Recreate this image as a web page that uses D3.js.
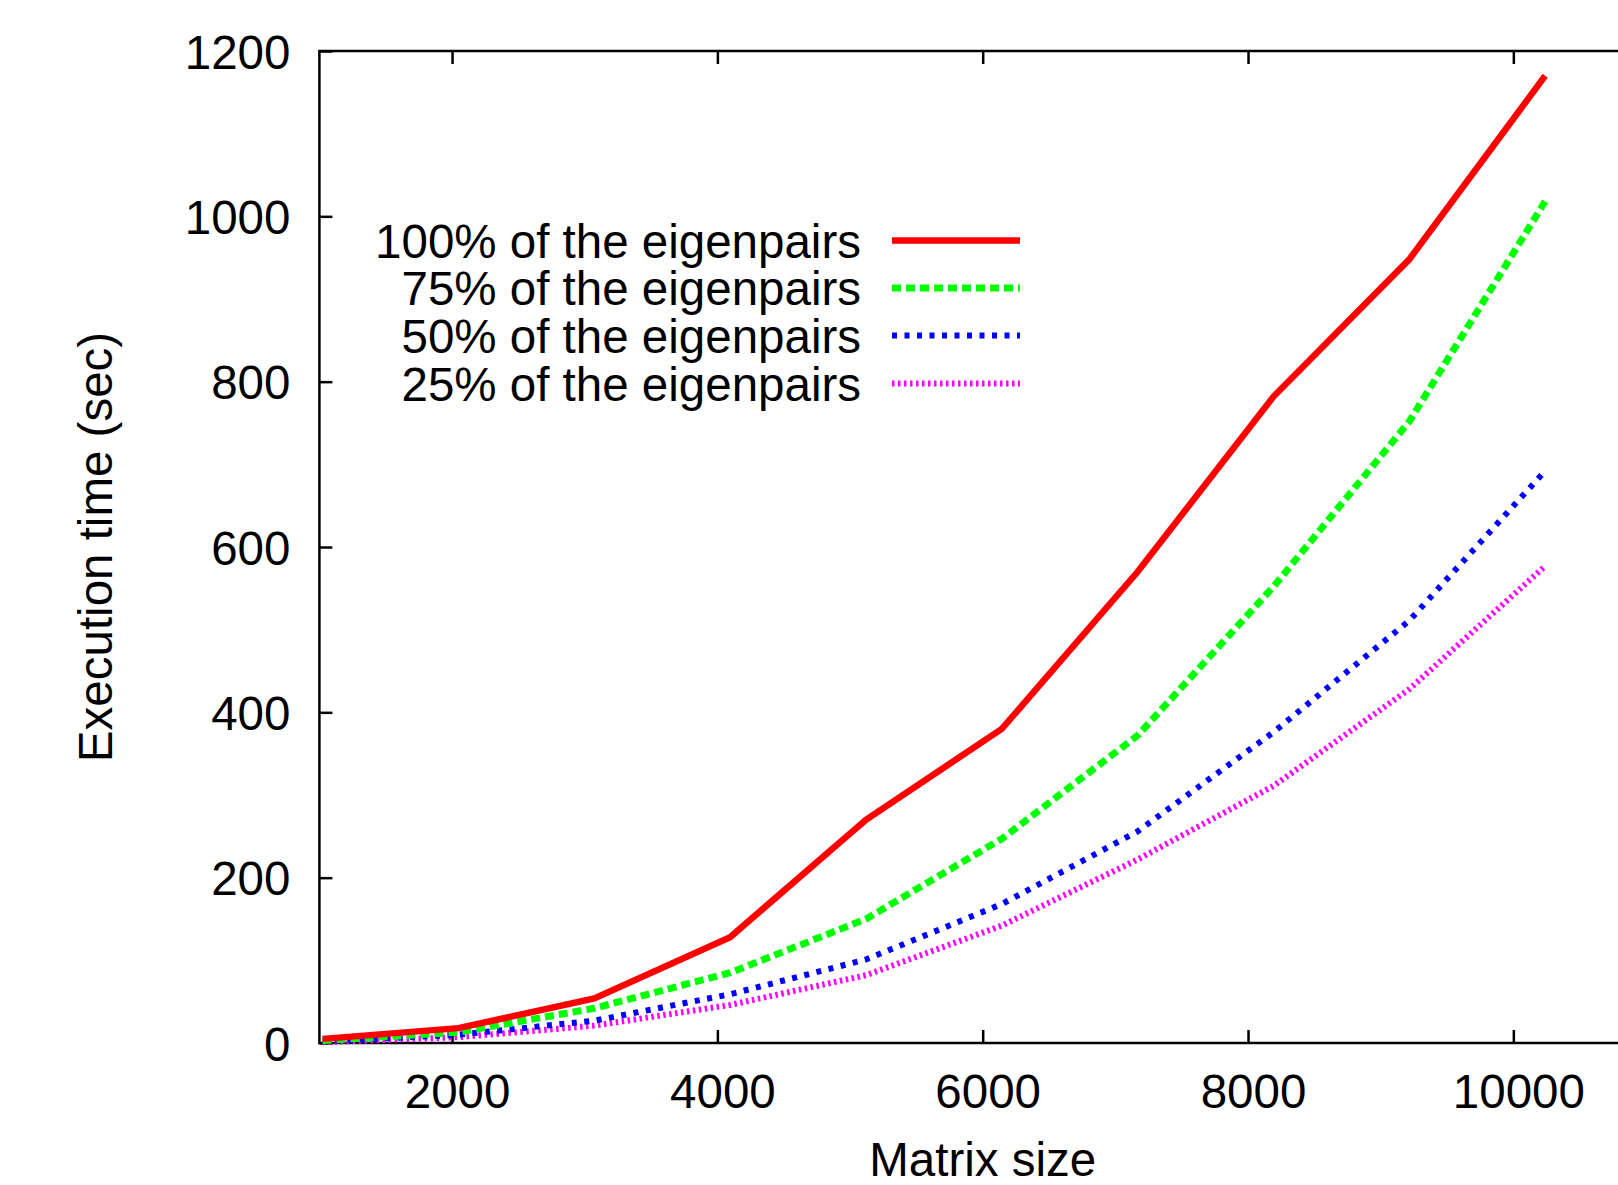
<!DOCTYPE html>
<html>
<head>
<meta charset="utf-8">
<script src="https://cdn.jsdelivr.net/npm/d3@7"></script>
<style>
    body{margin:0;background:#fff;}
    svg{display:block;}
    text{font-family:"Liberation Sans",Arial,Helvetica,sans-serif;fill:#000;}
</style>
</head>
<body>
<div id="chart"></div>
<script>
// 矩阵规模
var matrixSize=[1024,2048,3072,4096,5120,6144,7168,8192,9216,10240];
// 执行时间 (sec)
var pairs100=[5,18,54,128,270,380,570,782,948,1170];
var pairs75=[3,13,42,85,150,247,372,552,752,1018];
var pairs50=[2,10,27,59,101,168,256,376,511,692];
var pairs25=[1,7,21,46,82,142,222,311,428,577];

var seriesNames=["100% of the eigenpairs","75% of the eigenpairs","50% of the eigenpairs","25% of the eigenpairs"];
var xTicks=[2000,4000,6000,8000,10000];
var yTicks=[0,200,400,600,800,1000,1200];

var chartW=1618,chartH=1185;
var plotL=319.4,plotR=1646,plotT=51,plotB=1043;
var fontSize=47.5;

var svg=d3.select("#chart").append("svg")
    .attr("width",chartW)
    .attr("height",chartH);

var x=d3.scaleLinear().domain([1000,11000]).range([plotL,plotR]);
var y=d3.scaleLinear().domain([0,1200]).range([plotB,plotT]);

var styles=[
    {color:"#ff0000",w:6.5,dash:null},
    {color:"#00ff00",w:7,dash:"9,5"},
    {color:"#0000ff",w:6,dash:"5,7.5"},
    {color:"#ff00ff",w:6,dash:"2.5,3.5"}
];
var seriesData=[pairs100,pairs75,pairs50,pairs25];

// 坐标轴
function styleAxis(g){
    g.select(".domain").remove();
    g.selectAll(".tick line").attr("stroke","#000").attr("stroke-width",2.5);
    g.selectAll(".tick text").attr("font-size",fontSize).attr("font-family",null);
}

svg.append("g")
    .attr("transform","translate(0,"+plotB+")")
    .call(d3.axisBottom(x).tickValues(xTicks).tickSizeInner(-13).tickSizeOuter(0).tickPadding(31).tickFormat(d3.format("d")))
    .call(styleAxis)
    .selectAll(".tick text").attr("dx",5);

svg.append("g")
    .attr("transform","translate(0,"+plotT+")")
    .call(d3.axisTop(x).tickValues(xTicks).tickSizeInner(-13).tickSizeOuter(0).tickFormat(""))
    .call(styleAxis);

svg.append("g")
    .attr("transform","translate("+plotL+",0)")
    .call(d3.axisLeft(y).tickValues(yTicks).tickSizeInner(-13).tickSizeOuter(0).tickPadding(29).tickFormat(d3.format("d")))
    .call(styleAxis)
    .selectAll(".tick text").attr("dy","0.36em");

svg.append("g")
    .attr("transform","translate("+plotR+",0)")
    .call(d3.axisRight(y).tickValues(yTicks).tickSizeInner(-13).tickSizeOuter(0).tickFormat(""))
    .call(styleAxis);

svg.append("rect")
    .attr("x",plotL).attr("y",plotT)
    .attr("width",plotR-plotL).attr("height",plotB-plotT)
    .attr("fill","none").attr("stroke","#000").attr("stroke-width",2.5);

// 曲线
var line=d3.line()
    .x(function(d,i){return x(matrixSize[i]);})
    .y(function(d){return y(d);});

for(var i=seriesData.length-1;i>=0;i--){
    svg.append("path")
        .datum(seriesData[i])
        .attr("d",line)
        .attr("fill","none")
        .attr("stroke",styles[i].color)
        .attr("stroke-width",styles[i].w)
        .attr("stroke-dasharray",styles[i].dash);
}

// 图例
var legendY=[240.5,288,335.5,383.5];
for(var j=0;j<seriesNames.length;j++){
    svg.append("text")
        .attr("x",861).attr("y",legendY[j])
        .attr("dy","0.36em")
        .attr("text-anchor","end")
        .attr("font-size",fontSize)
        .text(seriesNames[j]);
    svg.append("line")
        .attr("x1",892).attr("x2",1020)
        .attr("y1",legendY[j]).attr("y2",legendY[j])
        .attr("stroke",styles[j].color)
        .attr("stroke-width",styles[j].w)
        .attr("stroke-dasharray",styles[j].dash);
}

// 轴标题
svg.append("text")
    .attr("x",(plotL+plotR)/2).attr("y",1176)
    .attr("text-anchor","middle")
    .attr("font-size",fontSize)
    .text("Matrix size");

svg.append("text")
    .attr("transform","translate(112,"+((plotT+plotB)/2)+") rotate(-90)")
    .attr("text-anchor","middle")
    .attr("font-size",fontSize)
    .text("Execution time (sec)");
</script>
</body>
</html>
